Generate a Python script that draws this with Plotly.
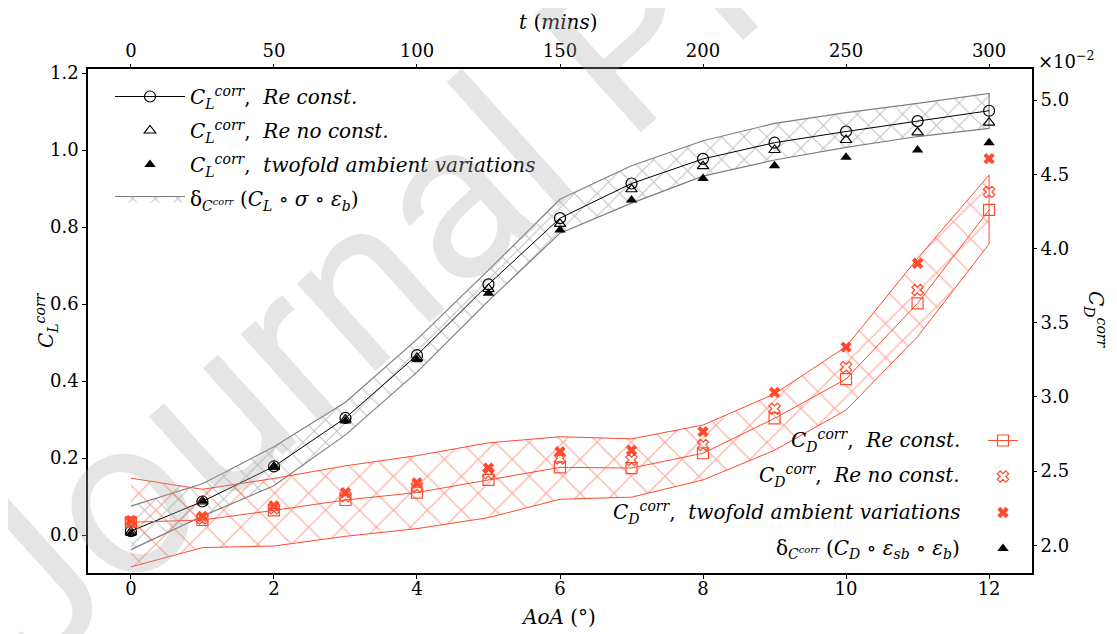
import plotly.graph_objects as go

# ---------------- data ----------------
AOA = [0, 1, 2, 3, 4, 5, 6, 7, 8, 9, 10, 11, 12]
T_TICKS = [0, 50, 100, 150, 200, 250, 300]

CL_RE_CONST = [0.010, 0.087, 0.178, 0.304, 0.467, 0.651, 0.823, 0.913, 0.977, 1.019, 1.048, 1.075, 1.102]
CL_RE_NO_CONST = [0.008, 0.087, 0.177, 0.300, 0.460, 0.639, 0.808, 0.898, 0.958, 1.000, 1.026, 1.046, 1.071]
CL_TWOFOLD = [0.004, 0.088, 0.176, 0.296, 0.455, 0.628, 0.792, 0.870, 0.926, 0.959, 0.981, 1.000, 1.019]
CL_BAND_UPPER = [0.075, 0.133, 0.229, 0.345, 0.508, 0.688, 0.872, 0.959, 1.024, 1.069, 1.097, 1.121, 1.147]
CL_BAND_LOWER = [-0.038, 0.049, 0.128, 0.260, 0.423, 0.608, 0.784, 0.862, 0.932, 0.974, 1.007, 1.035, 1.056]

# C_D values in units of 1e-2
CD_RE_CONST = [2.155, 2.17, 2.235, 2.305, 2.355, 2.44, 2.525, 2.52, 2.62, 2.855, 3.12, 3.63, 4.26]
CD_RE_NO_CONST = [2.16, 2.18, 2.25, 2.33, 2.395, 2.485, 2.585, 2.575, 2.675, 2.92, 3.20, 3.72, 4.38]
CD_TWOFOLD = [2.165, 2.195, 2.265, 2.355, 2.42, 2.52, 2.63, 2.64, 2.765, 3.03, 3.335, 3.90, 4.605]
CD_BAND_UPPER = [2.452, 2.377, 2.45, 2.535, 2.604, 2.69, 2.731, 2.717, 2.81, 3.02, 3.338, 3.933, 4.495]
CD_BAND_LOWER = [1.854, 1.984, 1.995, 2.06, 2.112, 2.186, 2.31, 2.324, 2.44, 2.64, 2.911, 3.405, 4.03]

CL_TICKS = [0.0, 0.2, 0.4, 0.6, 0.8, 1.0, 1.2]
CD_TICKS = [2.0, 2.5, 3.0, 3.5, 4.0, 4.5, 5.0]

RED = "#ff4a2e"
GRAY = "#7f7f7f"
FONT = "DejaVu Serif"

OFF = 8  # page offset of the figure (body margin)
W, H = 1117 - OFF, 634 - OFF
# plot area in page pixels: x 88..1032, y 69..573
ML, MT = 88 - OFF, 69 - OFF
PW, PH = 944, 504
MR, MB = W - ML - PW, H - MT - PH


def px2paper_x(px):
    return (px - OFF - ML) / PW


def px2paper_y(py):
    return 1 - (py - OFF - MT) / PH


fig = go.Figure()

# gray uncertainty band (C_L)
fig.add_trace(go.Scatter(
    x=AOA + AOA[::-1], y=CL_BAND_UPPER + CL_BAND_LOWER[::-1],
    fill="toself", mode="lines",
    line=dict(color=GRAY, width=1.2),
    fillcolor="rgba(0,0,0,0)",
    fillpattern=dict(shape="x", fgcolor=GRAY, bgcolor="rgba(0,0,0,0)", size=16, solidity=0.12),
    name="δ<sub><i>C</i></sub><sub><sup><i>corr</i></sup></sub> (<i>C<sub>L</sub></i> ∘ <i>σ</i> ∘ <i>ε<sub>b</sub></i>)",
    legend="legend", legendrank=4, legendgroup="g4",
    hoverinfo="skip",
))
fig.add_trace(go.Scatter(
    x=AOA, y=CL_RE_CONST, mode="lines+markers",
    line=dict(color="black", width=1),
    marker=dict(symbol="circle-open", size=11, color="black", line=dict(width=1.2)),
    name="<i>C<sub>L</sub><sup>corr</sup></i>,  <i>Re const.</i>",
    legend="legend", legendrank=1, legendgroup="g1",
))
fig.add_trace(go.Scatter(
    x=AOA, y=CL_RE_NO_CONST, mode="markers",
    marker=dict(symbol="triangle-up-open", size=10, color="black", line=dict(width=1.2)),
    name="<i>C<sub>L</sub><sup>corr</sup></i>,  <i>Re no const.</i>",
    legend="legend", legendrank=2, legendgroup="g2",
))
fig.add_trace(go.Scatter(
    x=AOA, y=CL_TWOFOLD, mode="markers",
    marker=dict(symbol="triangle-up", size=10, color="black"),
    name="<i>C<sub>L</sub><sup>corr</sup></i>,  <i>twofold ambient variations</i>",
    legend="legend", legendrank=3, legendgroup="g3",
))
# invisible trace to activate the top axis
fig.add_trace(go.Scatter(
    x=[a * 25 for a in AOA], y=CL_RE_CONST, xaxis="x2", yaxis="y",
    mode="markers", marker=dict(opacity=0), showlegend=False, hoverinfo="skip",
))

# red uncertainty band (C_D)
fig.add_trace(go.Scatter(
    x=AOA + AOA[::-1], y=CD_BAND_UPPER + CD_BAND_LOWER[::-1], yaxis="y2",
    fill="toself", mode="lines",
    line=dict(color=RED, width=1),
    fillcolor="rgba(0,0,0,0)",
    fillpattern=dict(shape="x", fgcolor=RED, bgcolor="rgba(0,0,0,0)", size=24, solidity=0.1),
    showlegend=False, hoverinfo="skip",
))
fig.add_trace(go.Scatter(
    x=AOA, y=CD_RE_CONST, yaxis="y2", mode="lines+markers",
    line=dict(color=RED, width=1),
    marker=dict(symbol="square-open", size=11, color=RED, line=dict(width=1.2)),
    name=" ", legend="legend2", legendgroup="h1",
))
fig.add_trace(go.Scatter(
    x=AOA, y=CD_RE_NO_CONST, yaxis="y2", mode="markers",
    marker=dict(symbol="x-open", size=10, color=RED, line=dict(width=1.2)),
    name=" ", legend="legend2", legendgroup="h2",
))
fig.add_trace(go.Scatter(
    x=AOA, y=CD_TWOFOLD, yaxis="y2", mode="markers",
    marker=dict(symbol="x", size=10, color=RED),
    name=" ", legend="legend2", legendgroup="h3",
))
# legend key of the C_D band, as it appears in the original (black triangle)
fig.add_trace(go.Scatter(
    x=[None], y=[None], yaxis="y2", mode="markers",
    marker=dict(symbol="triangle-up", size=10, color="black"),
    name=" ", legend="legend2", legendgroup="h4",
))

axis_common = dict(
    ticks="outside", ticklen=4, tickwidth=1, tickcolor="black",
    showgrid=False, zeroline=False, automargin=False,
    tickfont=dict(family=FONT, size=18, color="black"),
)

fig.update_layout(
    width=W, height=H,
    margin=dict(l=ML, r=MR, t=MT, b=MB, autoexpand=False),
    paper_bgcolor="white", plot_bgcolor="white",
    font=dict(family=FONT, size=20, color="black"),
    xaxis=dict(
        range=[-0.6, 12.6], tickvals=[0, 2, 4, 6, 8, 10, 12],
        showline=True, mirror=True, linecolor="black", linewidth=1.6,
        ticklabelstandoff=-5,
        **axis_common,
    ),
    xaxis2=dict(
        overlaying="x", side="top", anchor="y",
        range=[-15, 315], tickvals=T_TICKS,
        **axis_common,
    ),
    yaxis=dict(
        range=[-0.0987, 1.2104], tickvals=CL_TICKS, tickformat=".1f",
        showline=True, mirror=True, linecolor="black", linewidth=1.6,
        **axis_common,
    ),
    yaxis2=dict(
        overlaying="y", side="right", anchor="x",
        range=[1.813, 5.209], tickvals=CD_TICKS, tickformat=".1f",
        **axis_common,
    ),
    legend=dict(
        x=px2paper_x(110), y=px2paper_y(77), xanchor="left", yanchor="top",
        bgcolor="rgba(255,255,255,0)", borderwidth=0,
        font=dict(family=FONT, size=20), itemwidth=70,
        traceorder="grouped", tracegroupgap=5,
    ),
    legend2=dict(
        x=px2paper_x(983), y=px2paper_y(421), xanchor="left", yanchor="top",
        bgcolor="rgba(255,255,255,0)", borderwidth=0,
        font=dict(family=FONT, size=20),
        traceorder="grouped", tracegroupgap=7,
    ),
)

annotations = []
# texts of the second legend (text left of the key, right aligned)
legend2_texts = [
    "<i>C<sub>D</sub><sup>corr</sup></i>,  <i>Re const.</i>",
    "<i>C<sub>D</sub><sup>corr</sup></i>,  <i>Re no const.</i>",
    "<i>C<sub>D</sub><sup>corr</sup></i>,  <i>twofold ambient variations</i>",
    "δ<sub><i>C</i></sub><sub><sup><i>corr</i></sup></sub> (<i>C<sub>D</sub></i> ∘ <i>ε<sub>sb</sub></i> ∘ <i>ε<sub>b</sub></i>)",
]
legend2_rows = [440, 475, 512, 549]
for txt, row in zip(legend2_texts, legend2_rows):
    annotations.append(dict(
        text=txt, xref="paper", yref="paper", x=px2paper_x(962), y=px2paper_y(row),
        xanchor="right", yanchor="middle", showarrow=False,
        font=dict(family=FONT, size=20, color="black"),
    ))
# axis titles
titles = [
    dict(text="<i>AoA</i> (°)", x=px2paper_x(558), y=px2paper_y(617), textangle=0),
    dict(text="<i>t</i> (<i>mins</i>)", x=px2paper_x(558), y=px2paper_y(22), textangle=0),
    dict(text="<i>C<sub>L</sub><sup>corr</sup></i>", x=px2paper_x(46), y=px2paper_y(320), textangle=-90),
    dict(text="<i>C<sub>D</sub><sup>corr</sup></i>", x=px2paper_x(1096), y=px2paper_y(320), textangle=90),
]
for a in titles:
    a.update(xref="paper", yref="paper", xanchor="center", yanchor="middle", showarrow=False,
             font=dict(family=FONT, size=20, color="black"))
annotations += titles
# offset text of the right axis
annotations.append(dict(
    text="×10<sup>−2</sup>", xref="paper", yref="paper",
    x=px2paper_x(1036), y=px2paper_y(60), xanchor="left", yanchor="middle",
    showarrow=False, font=dict(family=FONT, size=18, color="black"),
))
# watermark
annotations.append(dict(
    text="Journal Pre-proof", xref="paper", yref="paper",
    x=px2paper_x(622), y=px2paper_y(47), textangle=-42,
    xanchor="center", yanchor="middle", showarrow=False,
    font=dict(family="Roboto", size=223, color="rgba(170,170,170,0.3)"),
))
fig.update_layout(annotations=annotations)

fig.write_html("out.html")
